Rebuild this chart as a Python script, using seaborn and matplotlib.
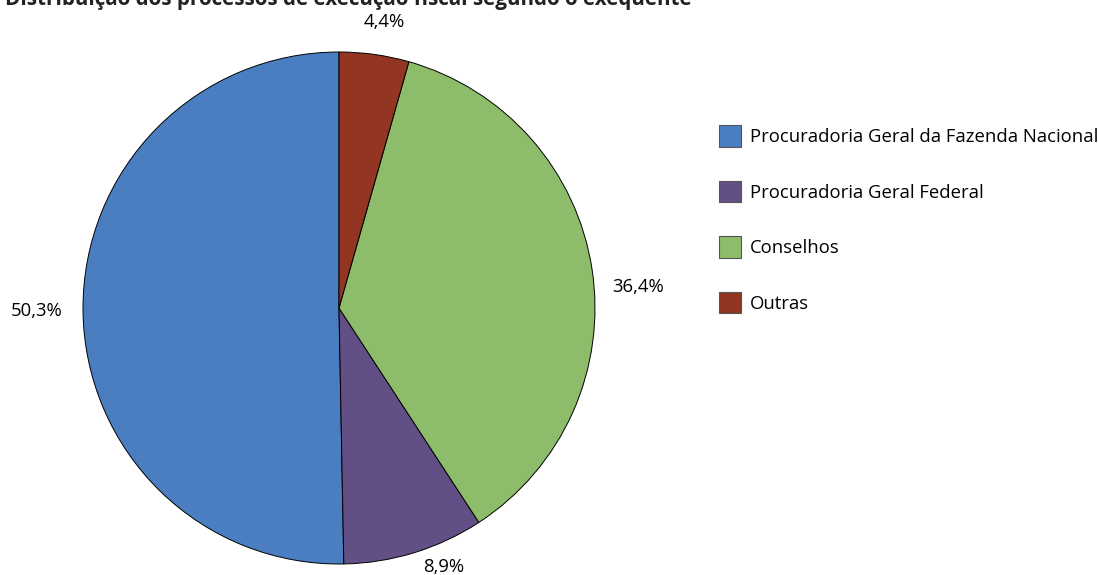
import matplotlib
matplotlib.use("Agg")
import matplotlib.pyplot as plt
import seaborn as sns
import numpy as np

categories = ["Procuradoria Geral da Fazenda Nacional", "Procuradoria Geral Federal", "Conselhos", "Outras"]
values = [50.3, 8.9, 36.4, 4.4]
labels_pct = ["50,3%", "8,9%", "36,4%", "4,4%"]
colors = ["#4A7EC1", "#624F85", "#8DBD6A", "#923522"]
title = "Distribuição dos processos de execução fiscal segundo o exequente"

# label placement style (distance in radii, angular nudge in degrees)
label_dist = [1.18, 1.09, 1.17, 1.13]
label_nudge = [0.0, 5.0, -4.6, -1.0]

sns.set_theme(style="white")
plt.rcParams["font.family"] = ["Open Sans", "DejaVu Sans"]

W, H = 1098, 575
fig = plt.figure(figsize=(W / 100, H / 100), dpi=100)
cx, cy, r = 339, 308, 256
ax = fig.add_axes([(cx - r) / W, (H - cy - r) / H, 2 * r / W, 2 * r / H])

wedges, _ = ax.pie(values, colors=colors, startangle=90, counterclock=True,
                   radius=1, wedgeprops=dict(edgecolor="black", linewidth=0.7))
ang = 90.0
for lab, v, d, nd in zip(labels_pct, values, label_dist, label_nudge):
    mid = np.deg2rad(ang + v * 3.6 / 2 + nd)
    ang += v * 3.6
    ax.text(d * np.cos(mid), d * np.sin(mid), lab, ha="center", va="center",
            fontsize=13.3, color="black")
ax.set_xlim(-1, 1)
ax.set_ylim(-1, 1)
ax.set_aspect("equal")
ax.axis("off")

leg = fig.legend(wedges, categories, loc="upper left",
                 bbox_to_anchor=(712 / W, 1 - 118 / H), frameon=False,
                 fontsize=13.3, handlelength=1.19, handleheight=1.4,
                 labelspacing=1.85, handletextpad=0.45, borderaxespad=0)
for t in leg.get_texts():
    t.set_color("black")
for h in leg.legend_handles:
    h.set_edgecolor("#555555")
    h.set_linewidth(0.8)

fig.text(5 / W, 1 - 5 / H, title, ha="left", va="baseline",
         fontsize=14.9, fontweight="bold", color="#222222")

fig.savefig("out.png", dpi=100)
